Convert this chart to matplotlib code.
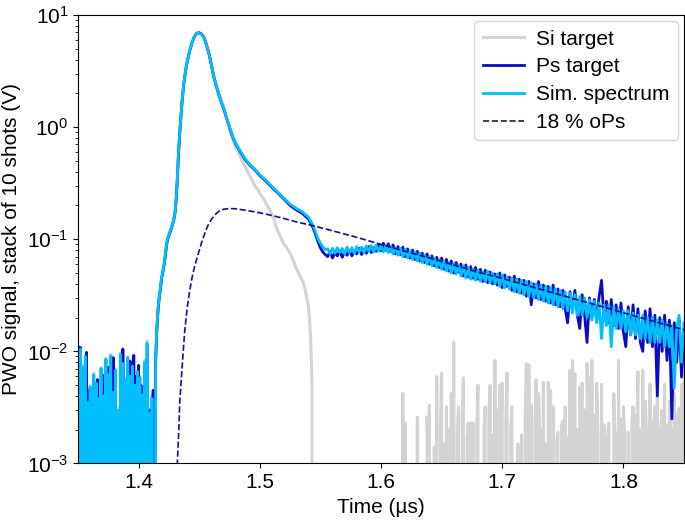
import numpy as np
import matplotlib
matplotlib.use("Agg")
import matplotlib.pyplot as plt

plt.rcParams['font.family'] = ['Liberation Sans', 'DejaVu Sans']
plt.rcParams['mathtext.fontset'] = 'custom'
plt.rcParams['mathtext.rm'] = 'Liberation Sans'
plt.rcParams['mathtext.it'] = 'Liberation Sans:italic'

# ---------------- data (V) ----------------
# pre-trigger noise, 1 ns sampling
t_pre = np.round(np.arange(1.350, 1.4135, 0.001), 3)
ps_pre = [0.011, 0.0005, 0.0108, 0.002, 0.0, 0.0065, 0.0003, 0.0098, 0.0, 0.0045,
          0.0, 0.0032, 0.0012, 0.0, 0.0045, 0.0, 0.0056, 0.0, 0.0025, 0.0,
          0.0062, 0.0, 0.0038, 0.0008, 0.0, 0.0072, 0.0, 0.0055, 0.0, 0.0088,
          0.0, 0.0041, 0.0, 0.0028, 0.0, 0.0066, 0.0, 0.0105, 0.0, 0.0048,
          0.0, 0.0036, 0.0, 0.0082, 0.0015, 0.0, 0.0092, 0.0, 0.0060, 0.0,
          0.0075, 0.0, 0.0050, 0.0, 0.0038, 0.0006, 0.0, 0.0085, 0.0, 0.0030,
          0.0, 0.0012, 0.0045, 0.0]
sim_pre = [0.0098, 0.0, 0.0105, 0.0, 0.0072, 0.0, 0.0090, 0.0, 0.0035, 0.0,
           0.0048, 0.0, 0.0025, 0.0062, 0.0, 0.0052, 0.0, 0.0038, 0.0, 0.0070,
           0.0, 0.0040, 0.0, 0.0085, 0.0, 0.0062, 0.0, 0.0091, 0.0, 0.0043,
           0.0, 0.0068, 0.0, 0.0030, 0.0, 0.0094, 0.0, 0.0078, 0.0, 0.0056,
           0.0, 0.0088, 0.0, 0.0060, 0.0, 0.0074, 0.0, 0.0050, 0.0, 0.0066,
           0.0, 0.0058, 0.0, 0.0041, 0.0, 0.0080, 0.0, 0.0118, 0.0, 0.0028,
           0.0, 0.0038, 0.0, 0.0]
si_pre = [0.0102, 0.0, 0.0110, 0.0, 0.0075, 0.0, 0.0093, 0.0, 0.0038, 0.0,
          0.0050, 0.0, 0.0027, 0.0064, 0.0, 0.0054, 0.0, 0.0040, 0.0, 0.0072,
          0.0, 0.0042, 0.0, 0.0087, 0.0, 0.0065, 0.0, 0.0094, 0.0, 0.0045,
          0.0, 0.0070, 0.0, 0.0032, 0.0, 0.0097, 0.0, 0.0080, 0.0, 0.0058,
          0.0, 0.0090, 0.0, 0.0063, 0.0, 0.0077, 0.0, 0.0052, 0.0, 0.0068,
          0.0, 0.0060, 0.0, 0.0043, 0.0, 0.0083, 0.0, 0.0125, 0.0, 0.0030,
          0.0, 0.0040, 0.0, 0.0]

# main pulse
t_main = [1.414, 1.415, 1.416, 1.417, 1.418, 1.419, 1.420, 1.421, 1.422, 1.423,
          1.424, 1.425, 1.426, 1.427, 1.428, 1.429, 1.430, 1.431, 1.432, 1.433,
          1.434, 1.435, 1.436, 1.437, 1.438, 1.439, 1.440,
          1.442, 1.444, 1.446, 1.448, 1.450, 1.452, 1.454, 1.456, 1.458, 1.460,
          1.462, 1.464, 1.466, 1.468, 1.470, 1.472, 1.474, 1.476, 1.478, 1.480,
          1.484, 1.488, 1.492, 1.496, 1.500,
          1.505, 1.510, 1.515, 1.520, 1.525, 1.530, 1.535, 1.540,
          1.542, 1.544, 1.546, 1.548, 1.550, 1.552, 1.554]
sim_main = [0.0085, 0.016, 0.024, 0.031, 0.037, 0.046, 0.052, 0.060, 0.072, 0.090,
            0.102, 0.110, 0.118, 0.126, 0.137, 0.150, 0.172, 0.230, 0.36, 0.62,
            0.92, 1.30, 1.78, 2.30, 2.80, 3.30, 3.80,
            4.75, 5.65, 6.40, 6.85, 6.90, 6.70, 6.25, 5.40, 4.55, 3.65,
            2.85, 2.35, 2.00, 1.72, 1.50, 1.27, 1.08, 0.93, 0.81, 0.72,
            0.61, 0.52, 0.46, 0.42, 0.375,
            0.335, 0.295, 0.262, 0.232, 0.205, 0.189, 0.176, 0.158,
            0.146, 0.132, 0.116, 0.101, 0.092, 0.085, 0.081]
ps_main = [0.0080, 0.015, 0.023, 0.030, 0.036, 0.045, 0.051, 0.059, 0.070, 0.088,
           0.100, 0.108, 0.116, 0.124, 0.135, 0.148, 0.170, 0.225, 0.35, 0.60,
           0.90, 1.28, 1.76, 2.28, 2.78, 3.28, 3.78,
           4.72, 5.62, 6.42, 6.90, 6.95, 6.75, 6.28, 5.42, 4.55, 3.62,
           2.83, 2.33, 1.98, 1.70, 1.48, 1.26, 1.07, 0.92, 0.80, 0.71,
           0.60, 0.51, 0.455, 0.415, 0.37,
           0.33, 0.29, 0.258, 0.228, 0.200, 0.183, 0.170, 0.152,
           0.140, 0.126, 0.110, 0.095, 0.084, 0.077, 0.073]

# tail, 2 ns sampling
t_tail = np.round(1.556 + 0.002 * np.arange(148), 3)
ps_tail = [0.070, 0.078, 0.068, 0.076, 0.071, 0.079, 0.069, 0.077, 0.072, 0.080,
           0.071, 0.079, 0.074, 0.083, 0.073, 0.082, 0.075, 0.086, 0.076, 0.084,
           0.078, 0.090, 0.079, 0.092, 0.080, 0.091, 0.078, 0.089, 0.074, 0.086,
           0.073, 0.085, 0.070, 0.082, 0.068, 0.080, 0.066, 0.078, 0.064, 0.075,
           0.062, 0.074, 0.060, 0.071, 0.058, 0.069, 0.056, 0.068, 0.054, 0.066,
           0.052, 0.064, 0.050, 0.062, 0.051, 0.060, 0.047, 0.059, 0.046, 0.057,
           0.045, 0.056, 0.044, 0.054, 0.042, 0.053, 0.041, 0.051, 0.040, 0.049,
           0.039, 0.050, 0.037, 0.048, 0.038, 0.046, 0.035, 0.047, 0.034, 0.044,
           0.033, 0.043, 0.031, 0.042, 0.026, 0.040, 0.030, 0.042, 0.029, 0.039,
           0.028, 0.038, 0.027, 0.039, 0.026, 0.036, 0.025, 0.035, 0.024, 0.018,
           0.034, 0.023, 0.035, 0.021, 0.016, 0.032, 0.021, 0.012, 0.030, 0.020,
           0.029, 0.019, 0.031, 0.043, 0.019, 0.028, 0.018, 0.029, 0.017, 0.026,
           0.016, 0.027, 0.015, 0.011, 0.025, 0.014, 0.026, 0.013, 0.024, 0.012,
           0.010, 0.023, 0.012, 0.024, 0.011, 0.021, 0.004, 0.020, 0.010, 0.021,
           0.0083, 0.019, 0.0025, 0.018, 0.008, 0.019, 0.0059, 0.014]
sim_tail = [0.082, 0.074, 0.083, 0.075, 0.084, 0.076, 0.083, 0.074, 0.085, 0.076,
            0.084, 0.075, 0.086, 0.077, 0.085, 0.076, 0.087, 0.078, 0.088, 0.077,
            0.089, 0.078, 0.087, 0.077, 0.088, 0.076, 0.086, 0.074, 0.084, 0.072,
            0.083, 0.070, 0.081, 0.068, 0.079, 0.066, 0.077, 0.064, 0.075, 0.062,
            0.072, 0.060, 0.070, 0.058, 0.068, 0.056, 0.066, 0.054, 0.064, 0.052,
            0.062, 0.050, 0.061, 0.049, 0.059, 0.047, 0.058, 0.045, 0.056, 0.044,
            0.054, 0.043, 0.053, 0.042, 0.051, 0.042, 0.052, 0.041, 0.050, 0.040,
            0.049, 0.038, 0.048, 0.037, 0.046, 0.036, 0.045, 0.034, 0.044, 0.033,
            0.043, 0.032, 0.042, 0.031, 0.041, 0.030, 0.040, 0.029, 0.039, 0.028,
            0.038, 0.027, 0.037, 0.026, 0.036, 0.025, 0.035, 0.024, 0.034, 0.023,
            0.033, 0.022, 0.032, 0.021, 0.031, 0.021, 0.030, 0.020, 0.029, 0.019,
            0.028, 0.018, 0.027, 0.013, 0.026, 0.017, 0.026, 0.011, 0.025, 0.016,
            0.024, 0.016, 0.023, 0.015, 0.023, 0.014, 0.022, 0.014, 0.021, 0.013,
            0.021, 0.013, 0.020, 0.012, 0.020, 0.012, 0.019, 0.012, 0.019, 0.011,
            0.018, 0.011, 0.017, 0.0047, 0.016, 0.021, 0.008, 0.018]

# Si target: pulse, fast fall, then background noise
t_si_fall = [1.474, 1.476, 1.478, 1.480, 1.482, 1.484, 1.486, 1.488, 1.490, 1.492,
             1.494, 1.496, 1.498, 1.500, 1.502, 1.504, 1.506, 1.508, 1.510, 1.512,
             1.514, 1.516, 1.518, 1.520, 1.522, 1.524, 1.526, 1.528, 1.530, 1.532,
             1.534, 1.536, 1.538, 1.540, 1.541, 1.542, 1.543, 1.544]
si_fall = [1.05, 0.89, 0.76, 0.66, 0.60, 0.54, 0.48, 0.44, 0.40, 0.365,
           0.33, 0.30, 0.28, 0.258, 0.238, 0.222, 0.200, 0.185, 0.165, 0.148,
           0.124, 0.112, 0.100, 0.090, 0.085, 0.078, 0.071, 0.063, 0.055, 0.050,
           0.045, 0.041, 0.033, 0.026, 0.019, 0.013, 0.0055, 0.0]
t_si_noise = np.round(1.616 + 0.001 * np.arange(235), 3)
si_noise = [0.0, 0, 0.0042, 0, 0.0023, 0, 0.0, 0, 0.0, 0,
            0.0, 0, 0.0, 0, 0.0026, 0, 0.0, 0, 0.0, 0,
            0.0, 0, 0.0026, 0.0012, 0.0033, 0, 0.0, 0, 0.0014, 0,
            0.0060, 0, 0.0, 0.0021, 0.0064, 0, 0.0015, 0, 0.0032, 0,
            0.0020, 0, 0.0042, 0, 0.0121, 0, 0.0, 0.0018, 0.0032, 0,
            0.0, 0.0025, 0.0058, 0, 0.0, 0.0016, 0.0023, 0, 0.0023, 0,
            0.0023, 0, 0.0, 0.0019, 0.0050, 0, 0.0, 0, 0.0, 0.0021,
            0.0032, 0, 0.0, 0.0028, 0.0050, 0, 0.0018, 0, 0.0083, 0,
            0.0030, 0, 0.0050, 0.0017, 0.0052, 0, 0.0, 0.0024, 0.0064, 0,
            0.0, 0.0020, 0.0032, 0, 0.0, 0, 0.0, 0.0015, 0.0, 0,
            0.0018, 0, 0.0, 0.0026, 0.0078, 0, 0.0076, 0, 0.0033, 0,
            0.0, 0.0022, 0.0056, 0, 0.0042, 0.0018, 0.0020, 0, 0.0053, 0,
            0.0015, 0, 0.0053, 0.0025, 0.0045, 0, 0.0032, 0, 0.0, 0.0016,
            0.0019, 0, 0.0, 0.0022, 0.0024, 0, 0.0032, 0, 0.0017, 0,
            0.0068, 0, 0.0083, 0.0030, 0.0063, 0, 0.0020, 0, 0.0048, 0.0026,
            0.0052, 0, 0.0030, 0, 0.0078, 0.0021, 0.0058, 0, 0.0083, 0,
            0.0027, 0, 0.0052, 0.0019, 0.0, 0, 0.0051, 0, 0.0022, 0,
            0.0, 0.0017, 0.0023, 0, 0.0, 0, 0.0042, 0.0020, 0.0016, 0,
            0.0083, 0, 0.0025, 0, 0.0032, 0.0018, 0.0, 0, 0.0019, 0,
            0.0, 0.0023, 0.0032, 0, 0.0027, 0.0015, 0.0066, 0, 0.0020, 0,
            0.0068, 0, 0.0036, 0.0020, 0.0018, 0, 0.0051, 0, 0.0024, 0.0017,
            0.0032, 0, 0.0040, 0, 0.0016, 0.0022, 0.0030, 0, 0.0051, 0,
            0.0022, 0, 0.0036, 0.0019, 0.0020, 0, 0.0042, 0, 0.0025, 0.0028,
            0.0031, 0, 0.0051, 0, 0.0083]

# 18 % oPs model curve
t_ops = [1.4315, 1.433, 1.434, 1.436, 1.438, 1.440, 1.442, 1.444, 1.446, 1.448,
         1.450, 1.452, 1.454, 1.456, 1.458, 1.460, 1.463, 1.466, 1.470, 1.475,
         1.480, 1.490, 1.500, 1.510, 1.520, 1.530, 1.540, 1.550, 1.560, 1.580,
         1.600, 1.620, 1.640, 1.660, 1.680, 1.700, 1.720, 1.740, 1.760, 1.780,
         1.800, 1.820, 1.840, 1.850]
ops = [0.0008, 0.0018, 0.0036, 0.0075, 0.0150, 0.024, 0.034, 0.045, 0.056, 0.067,
       0.079, 0.094, 0.108, 0.124, 0.138, 0.150, 0.165, 0.177, 0.185, 0.188,
       0.187, 0.180, 0.172, 0.163, 0.153, 0.143, 0.135, 0.127, 0.119, 0.104,
       0.090, 0.078, 0.068, 0.059, 0.051, 0.0447, 0.0388, 0.0337, 0.0293, 0.0255,
       0.0221, 0.0192, 0.0167, 0.0156]

# assemble series
t_ps = np.concatenate([t_pre, t_main, t_tail])
ps = np.concatenate([ps_pre, ps_main, ps_tail])
sim = np.concatenate([sim_pre, sim_main, sim_tail])
n_rise = t_main.index(1.472) + 1
t_si = np.concatenate([t_pre, t_main[:n_rise], t_si_fall, t_si_noise])
si = np.concatenate([si_pre, sim_main[:n_rise], si_fall, si_noise])

# ---------------- plot ----------------
fig = plt.figure(figsize=(6.85, 5.21), dpi=100)
ax = fig.add_axes([0.1139, 0.1104, 0.8846, 0.8608])

ax.plot(t_si, si, color='#d3d3d3', lw=2.2, label='Si target')
ax.plot(t_ps, ps, color='#0a0ac8', lw=2.0, label='Ps target')
ax.plot(t_ps, sim, color='#00bfff', lw=2.0, label='Sim. spectrum')
ax.plot(t_ops, ops, color='#10108a', lw=1.2, ls='--', label='18 % oPs')

ax.set_yscale('log', nonpositive='clip')
ax.set_xlim(1.35, 1.85)
ax.set_ylim(1e-3, 1e1)
ax.set_xticks([1.4, 1.5, 1.6, 1.7, 1.8])
ax.set_xticklabels(['1.4', '1.5', '1.6', '1.7', '1.8'])
ax.tick_params(labelsize=15)
ax.set_xlabel('Time (µs)', fontsize=15)
ax.set_ylabel('PWO signal, stack of 10 shots (V)', fontsize=15)
ax.legend(loc='upper right', fontsize=15, labelspacing=0.42,
          handlelength=2.0, handletextpad=0.55, borderaxespad=0.3)

fig.savefig('out.png', dpi=100)
